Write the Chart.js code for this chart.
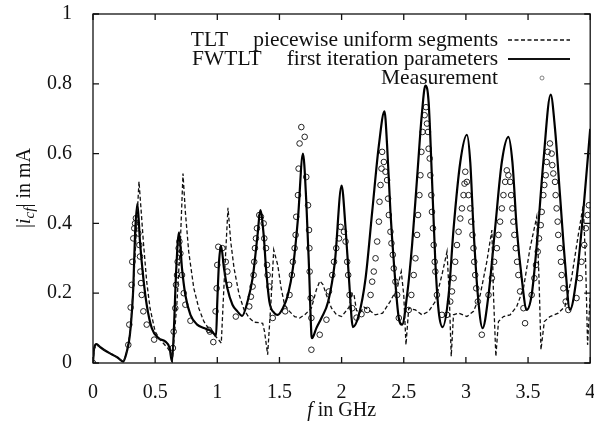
<!DOCTYPE html>
<html><head><meta charset="utf-8">
<script src="https://cdn.jsdelivr.net/npm/chart.js@4"></script>
<style>html,body{margin:0;padding:0;background:#fff}#wrap{width:594px;height:425px}</style>
</head><body><div id="wrap"><canvas id="c" width="594" height="425"></canvas></div>
<script>
// ---------- data ----------
const xTicks = [0, 0.5, 1, 1.5, 2, 2.5, 3, 3.5, 4];
const yTicks = [0, 0.2, 0.4, 0.6, 0.8, 1];
const seriesNames = ["TLT", "FWTLT", "Measurement"];
const seriesNotes = ["piecewise uniform segments", "first iteration parameters", ""];

const tltF = [0,0.01,0.027,0.1,0.2,0.245,0.27,0.3,0.33,0.355,0.37,0.386,0.405,0.432,0.459,0.5,0.54,0.6,0.625,0.638,0.676,0.703,0.724,0.743,0.77,0.811,0.851,0.892,0.946,1.0,1.032,1.054,1.086,1.108,1.135,1.176,1.216,1.257,1.297,1.365,1.38,1.405,1.432,1.454,1.486,1.514,1.541,1.581,1.622,1.662,1.703,1.757,1.797,1.825,1.85,1.878,1.919,1.959,2.0,2.06,2.085,2.1,2.12,2.15,2.18,2.22,2.27,2.33,2.39,2.447,2.48,2.5,2.518,2.54,2.594,2.647,2.7,2.754,2.807,2.848,2.866,2.882,2.9,2.941,3.008,3.061,3.115,3.168,3.209,3.222,3.241,3.262,3.302,3.356,3.409,3.463,3.516,3.57,3.588,3.604,3.631,3.676,3.743,3.797,3.85,3.904,3.944,3.963,3.979,4.0];
const tltI = [0,0.04,0.052,0.035,0.015,0.004,0.03,0.09,0.25,0.42,0.52,0.443,0.348,0.233,0.157,0.09,0.067,0.043,0.03,0.005,0.176,0.348,0.543,0.433,0.319,0.214,0.157,0.119,0.09,0.071,0.057,0.224,0.445,0.348,0.271,0.195,0.152,0.129,0.117,0.114,0.09,0.024,0.176,0.324,0.281,0.214,0.167,0.148,0.133,0.129,0.138,0.157,0.21,0.235,0.225,0.195,0.157,0.138,0.133,0.16,0.2,0.195,0.15,0.145,0.16,0.152,0.138,0.143,0.176,0.214,0.262,0.195,0.052,0.157,0.152,0.138,0.148,0.176,0.252,0.319,0.195,0.019,0.138,0.143,0.133,0.148,0.195,0.29,0.381,0.195,0.019,0.119,0.133,0.138,0.162,0.214,0.329,0.419,0.243,0.038,0.119,0.133,0.143,0.162,0.243,0.367,0.452,0.29,0.052,0.195];

const fwF = [0,0.008,0.027,0.06,0.1,0.15,0.2,0.243,0.27,0.297,0.324,0.338,0.357,0.378,0.405,0.432,0.473,0.527,0.58,0.616,0.635,0.649,0.67,0.692,0.716,0.743,0.784,0.838,0.892,0.959,0.99,1.0,1.014,1.03,1.054,1.081,1.122,1.162,1.2,1.243,1.284,1.324,1.346,1.373,1.392,1.419,1.459,1.486,1.527,1.568,1.608,1.649,1.689,1.716,1.738,1.757,1.762,1.797,1.838,1.892,1.946,2.0,2.032,2.059,2.091,2.139,2.193,2.246,2.3,2.345,2.366,2.393,2.42,2.46,2.487,2.527,2.567,2.607,2.647,2.674,2.7,2.727,2.754,2.781,2.813,2.861,2.901,2.955,3.008,3.035,3.061,3.096,3.134,3.182,3.235,3.289,3.342,3.374,3.409,3.449,3.489,3.529,3.57,3.623,3.682,3.717,3.757,3.797,3.837,3.89,3.944,4.0];
const fwI = [0,0.04,0.054,0.045,0.035,0.025,0.015,0.004,0.03,0.081,0.214,0.367,0.457,0.348,0.243,0.167,0.1,0.071,0.062,0.043,0.005,0.081,0.271,0.374,0.271,0.195,0.138,0.11,0.1,0.09,0.078,0.176,0.29,0.336,0.271,0.214,0.167,0.148,0.135,0.176,0.243,0.367,0.438,0.367,0.271,0.176,0.143,0.138,0.157,0.195,0.271,0.414,0.6,0.462,0.271,0.081,0.071,0.1,0.129,0.176,0.29,0.508,0.386,0.243,0.103,0.138,0.243,0.433,0.624,0.721,0.624,0.433,0.29,0.129,0.11,0.195,0.338,0.529,0.719,0.795,0.748,0.529,0.29,0.148,0.103,0.195,0.386,0.576,0.654,0.576,0.386,0.195,0.1,0.195,0.386,0.576,0.648,0.576,0.386,0.243,0.152,0.195,0.338,0.576,0.769,0.671,0.481,0.29,0.152,0.243,0.433,0.671];

const measF = [0,0.284,0.292,0.303,0.311,0.316,0.324,0.332,0.338,0.345,0.365,0.373,0.378,0.381,0.386,0.392,0.405,0.432,0.492,0.643,0.649,0.662,0.668,0.676,0.681,0.689,0.695,0.703,0.716,0.73,0.743,0.784,0.932,0.94,0.968,0.986,0.995,1.0,1.008,1.041,1.068,1.081,1.095,1.149,1.257,1.27,1.284,1.292,1.297,1.303,1.311,1.319,1.338,1.351,1.373,1.378,1.392,1.4,1.405,1.419,1.446,1.546,1.581,1.6,1.608,1.622,1.63,1.635,1.649,1.654,1.662,1.676,1.703,1.716,1.73,1.738,1.741,1.743,1.751,1.757,1.757,1.824,1.878,1.898,1.925,1.939,1.957,1.979,1.992,2.019,2.032,2.045,2.053,2.064,2.086,2.12,2.16,2.206,2.233,2.246,2.259,2.273,2.286,2.3,2.305,2.313,2.321,2.326,2.34,2.353,2.366,2.374,2.38,2.393,2.401,2.412,2.42,2.433,2.447,2.46,2.54,2.561,2.58,2.594,2.607,2.615,2.626,2.634,2.642,2.652,2.668,2.679,2.687,2.695,2.7,2.709,2.714,2.722,2.727,2.735,2.741,2.749,2.754,2.767,2.807,2.848,2.874,2.888,2.901,2.914,2.928,2.941,2.955,2.968,2.981,2.989,2.995,3.008,3.021,3.035,3.043,3.053,3.061,3.067,3.075,3.083,3.096,3.128,3.182,3.209,3.227,3.249,3.262,3.275,3.289,3.302,3.316,3.329,3.342,3.356,3.364,3.374,3.382,3.39,3.401,3.412,3.422,3.436,3.463,3.476,3.529,3.551,3.564,3.578,3.588,3.602,3.61,3.623,3.631,3.642,3.65,3.658,3.676,3.69,3.695,3.703,3.717,3.722,3.73,3.738,3.743,3.757,3.765,3.771,3.784,3.803,3.824,3.89,3.917,3.93,3.952,3.965,3.979,3.989];
const measI = [0,0.052,0.11,0.159,0.224,0.29,0.357,0.386,0.4,0.415,0.371,0.338,0.305,0.262,0.229,0.195,0.148,0.11,0.067,0.043,0.09,0.157,0.224,0.252,0.29,0.329,0.348,0.314,0.252,0.2,0.167,0.121,0.095,0.09,0.06,0.148,0.214,0.281,0.333,0.329,0.29,0.262,0.224,0.133,0.162,0.19,0.219,0.252,0.29,0.329,0.357,0.386,0.424,0.419,0.4,0.357,0.329,0.281,0.252,0.219,0.129,0.148,0.195,0.252,0.29,0.329,0.367,0.419,0.481,0.557,0.629,0.676,0.648,0.533,0.452,0.381,0.329,0.262,0.186,0.129,0.038,0.081,0.124,0.205,0.252,0.29,0.329,0.357,0.39,0.376,0.348,0.29,0.252,0.195,0.157,0.13,0.14,0.152,0.195,0.233,0.262,0.3,0.348,0.405,0.462,0.51,0.557,0.605,0.576,0.548,0.524,0.471,0.424,0.376,0.343,0.31,0.271,0.233,0.195,0.129,0.152,0.195,0.252,0.3,0.367,0.424,0.481,0.538,0.605,0.662,0.71,0.733,0.686,0.662,0.614,0.586,0.538,0.481,0.433,0.386,0.338,0.29,0.262,0.195,0.138,0.138,0.176,0.205,0.243,0.29,0.338,0.376,0.414,0.443,0.481,0.514,0.548,0.519,0.481,0.443,0.405,0.367,0.329,0.29,0.252,0.214,0.176,0.081,0.195,0.243,0.29,0.329,0.367,0.405,0.443,0.481,0.519,0.552,0.538,0.519,0.481,0.443,0.405,0.367,0.329,0.29,0.252,0.205,0.157,0.114,0.195,0.243,0.281,0.319,0.357,0.395,0.433,0.481,0.51,0.538,0.576,0.605,0.629,0.6,0.567,0.543,0.519,0.481,0.443,0.405,0.367,0.329,0.29,0.252,0.214,0.176,0.152,0.186,0.243,0.29,0.338,0.386,0.424,0.452];

// ---------- helpers ----------
const FONT = "'Liberation Serif','DejaVu Serif',serif";
const pts = (xs, ys) => xs.map((x, i) => ({x: x, y: ys[i]}));

const framePlugin = {
  id: 'frame',
  afterDraw(chart) {
    const ctx = chart.ctx, a = chart.chartArea;
    const xs = chart.scales.x, ys = chart.scales.y;
    ctx.save();
    ctx.strokeStyle = '#111';
    ctx.lineWidth = 1.3;
    ctx.strokeRect(a.left, a.top, a.right - a.left, a.bottom - a.top);
    ctx.beginPath();
    xTicks.forEach(v => {
      const p = xs.getPixelForValue(v);
      ctx.moveTo(p, a.bottom); ctx.lineTo(p, a.bottom - 6);
      ctx.moveTo(p, a.top); ctx.lineTo(p, a.top + 6);
    });
    yTicks.forEach(v => {
      const p = ys.getPixelForValue(v);
      ctx.moveTo(a.left, p); ctx.lineTo(a.left + 6, p);
      ctx.moveTo(a.right, p); ctx.lineTo(a.right - 6, p);
    });
    ctx.stroke();

    ctx.fillStyle = '#111';
    ctx.textBaseline = 'middle';
    // x title: "f in GHz"
    const fi = 'italic 20px ' + FONT, fr = '20px ' + FONT;
    ctx.font = fi; const wf = ctx.measureText('f').width;
    ctx.font = fr; const wr = ctx.measureText(' in GHz').width;
    let x0 = (a.left + a.right) / 2 - (wf + wr) / 2;
    ctx.textAlign = 'left';
    ctx.font = fi; ctx.fillText('f', x0, 411);
    ctx.font = fr; ctx.fillText(' in GHz', x0 + wf, 411);

    // y title: "|i_cf| in mA"
    ctx.save();
    ctx.translate(25, 188);
    ctx.rotate(-Math.PI / 2);
    const parts = [
      {t: '|', f: fr, dy: 0},
      {t: 'i', f: fi, dy: 0},
      {t: 'cf', f: 'italic 15px ' + FONT, dy: 5},
      {t: '|', f: fr, dy: 0},
      {t: ' in mA', f: fr, dy: 0}
    ];
    let tot = 0;
    parts.forEach(p => { ctx.font = p.f; p.w = ctx.measureText(p.t).width; tot += p.w; });
    let cx = -tot / 2;
    parts.forEach(p => { ctx.font = p.f; ctx.fillText(p.t, cx, p.dy); cx += p.w; });
    ctx.restore();

    // legend
    const rows = [40, 59, 78];
    const textRight = 498;
    ctx.textAlign = 'right';
    ctx.font = '21.5px ' + FONT;
    chart.data.datasets.forEach((ds, i) => {
      const y = rows[i];
      const note = seriesNotes[i];
      if (note) {
        ctx.fillText(note, textRight, y);
        const w = ctx.measureText(note).width;
        ctx.fillText(seriesNames[i], textRight - w - 25, y);
      } else {
        ctx.fillText(seriesNames[i], textRight, y);
      }
      ctx.beginPath();
      if (i === 2) {
        ctx.lineWidth = 0.8;
        ctx.strokeStyle = '#666';
        ctx.arc(542, y, 2, 0, Math.PI * 2);
        ctx.stroke();
      } else {
        ctx.strokeStyle = '#111';
        ctx.lineWidth = ds.borderWidth;
        ctx.setLineDash(ds.borderDash || []);
        ctx.moveTo(508, y); ctx.lineTo(570, y);
        ctx.stroke();
        ctx.setLineDash([]);
      }
    });
    ctx.restore();
  }
};

new Chart(document.getElementById('c'), {
  type: 'line',
  data: {
    datasets: [
      {label: seriesNames[0] + ' ' + seriesNotes[0], data: pts(tltF, tltI), borderColor: '#111', borderWidth: 1.3,
       borderDash: [4, 2.5], pointRadius: 0, tension: 0, fill: false},
      {label: seriesNames[1] + ' ' + seriesNotes[1], data: pts(fwF, fwI), borderColor: '#000', borderWidth: 2.2,
       pointRadius: 0, cubicInterpolationMode: 'monotone', fill: false},
      {label: seriesNames[2], data: pts(measF, measI), showLine: false, borderColor: '#222', borderWidth: 1,
       backgroundColor: 'rgba(255,255,255,0)', pointStyle: 'circle', pointRadius: 2.8, pointHoverRadius: 2.8}
    ]
  },
  options: {
    responsive: false,
    animation: false,
    devicePixelRatio: 1,
    layout: {padding: {top: 14, right: 2, left: 0, bottom: 0}},
    plugins: {legend: {display: false}, tooltip: {enabled: false}},
    scales: {
      x: {
        type: 'linear', min: 0, max: 4,
        afterBuildTicks: s => { s.ticks = xTicks.map(v => ({value: v})); },
        afterFit: s => { s.height = 62; s.paddingLeft = 0; s.paddingRight = 0; },
        grid: {display: false}, border: {display: false},
        ticks: {color: '#111', font: {family: FONT, size: 20}, padding: 10, maxRotation: 0, autoSkip: false,
                callback: v => String(v)}
      },
      y: {
        type: 'linear', min: 0, max: 1,
        afterBuildTicks: s => { s.ticks = yTicks.map(v => ({value: v})); },
        afterFit: s => { s.width = 93; s.paddingTop = 0; s.paddingBottom = 0; },
        grid: {display: false}, border: {display: false},
        ticks: {color: '#111', font: {family: FONT, size: 20}, padding: 13, autoSkip: false,
                callback: v => String(v)}
      }
    }
  },
  plugins: [framePlugin]
});
</script>
</body></html>
